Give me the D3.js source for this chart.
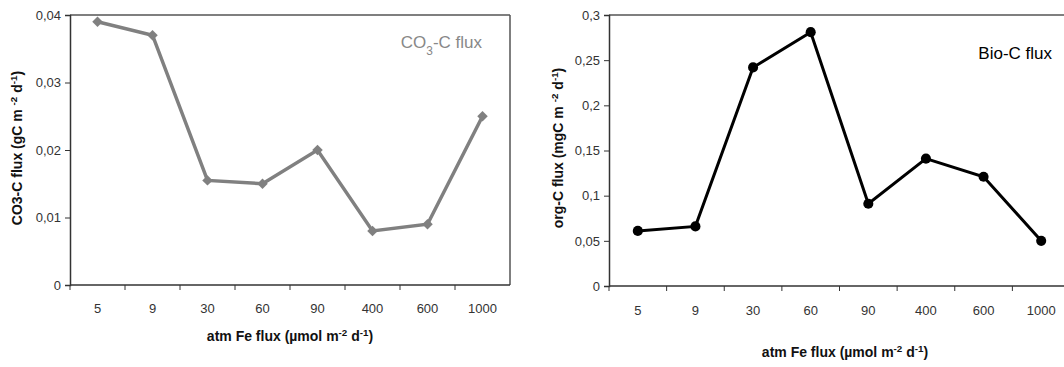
<!DOCTYPE html>
<html>
<head>
<meta charset="utf-8">
<script src="https://cdn.jsdelivr.net/npm/d3@7"></script>
<style>
  body { margin: 0; background: #fff; }
  svg { font-family: "Liberation Sans", Arial, sans-serif; }
</style>
</head>
<body>
<svg id="chart" width="1064" height="367"></svg>
<script>
// data
const feLabels = ["5", "9", "30", "60", "90", "400", "600", "1000"];
const co3Flux = [0.039, 0.037, 0.0155, 0.015, 0.020, 0.008, 0.009, 0.025];
const bioFlux = [0.061, 0.066, 0.242, 0.281, 0.091, 0.141, 0.121, 0.050];
const co3Ticks = [0, 0.01, 0.02, 0.03, 0.04];
const bioTicks = [0, 0.05, 0.1, 0.15, 0.2, 0.25, 0.3];

const svg = d3.select("#chart");
const fmt = d => String(d).replace(".", ",");

// superscript / subscript helper
function richText(sel, parts) {
    parts.forEach(p => {
        const t = sel.append("tspan").text(p.t);
        if (p.sup) t.attr("baseline-shift", "super").attr("font-size", "70%");
        if (p.sub) t.attr("baseline-shift", "sub").attr("font-size", "70%");
    });
}

function drawPanel(opt) {
    const g = svg.append("g");
    const x = d3.scaleBand().domain(feLabels).range([opt.x0, opt.x1]);
    const y = d3.scaleLinear().domain(opt.domain).range([opt.y1, opt.y0]);

    // frame top / right
    g.append("line").attr("x1", opt.x0).attr("x2", opt.x1)
        .attr("y1", opt.y0).attr("y2", opt.y0)
        .attr("stroke", "#555").attr("stroke-width", 1.5);
    g.append("line").attr("x1", opt.x1).attr("x2", opt.x1)
        .attr("y1", opt.y0).attr("y2", opt.y1)
        .attr("stroke", "#555").attr("stroke-width", 1.5);

    // x axis with ticks between categories
    const xa = g.append("g").attr("transform", `translate(0,${opt.y1})`);
    xa.append("line").attr("x1", opt.x0).attr("x2", opt.x1)
        .attr("stroke", "#333").attr("stroke-width", 1.5);
    xa.selectAll(".tk").data(feLabels).enter().append("line")
        .attr("x1", d => x(d)).attr("x2", d => x(d))
        .attr("y1", 0).attr("y2", 5)
        .attr("stroke", "#333");
    xa.selectAll(".lb").data(feLabels).enter().append("text")
        .attr("x", d => x(d) + x.bandwidth() / 2)
        .attr("y", opt.xLabelDy)
        .attr("text-anchor", "middle")
        .attr("font-size", 13).attr("fill", "#333")
        .text(d => d);

    // y axis
    const ya = g.append("g").attr("transform", `translate(${opt.x0},0)`)
        .call(d3.axisLeft(y).tickValues(opt.ticks).tickFormat(fmt).tickSize(5).tickPadding(4));
    ya.select(".domain").attr("stroke", "#333").attr("stroke-width", 1.5);
    ya.selectAll(".tick line").attr("stroke", "#333");
    ya.selectAll("text").attr("font-size", 13).attr("fill", "#333")
        .attr("font-family", "Liberation Sans, Arial, sans-serif");

    // line + markers
    const pts = feLabels.map((d, i) => [x(d) + x.bandwidth() / 2, y(opt.values[i])]);
    g.append("path").datum(pts)
        .attr("d", d3.line())
        .attr("fill", "none").attr("stroke", opt.color)
        .attr("stroke-width", opt.lineWidth);
    g.selectAll(".mk").data(pts).enter().append("path")
        .attr("transform", d => `translate(${d[0]},${d[1]})` + (opt.symbol === d3.symbolSquare ? " rotate(45)" : ""))
        .attr("d", d3.symbol().type(opt.symbol).size(opt.symbolSize))
        .attr("fill", opt.color);

    // y title
    const yt = g.append("text")
        .attr("transform", `translate(${opt.yTitleX},${opt.yTitleY}) rotate(-90)`)
        .attr("text-anchor", "middle").attr("font-size", 14).attr("font-weight", "bold")
        .attr("fill", "#111");
    richText(yt, opt.yTitle);

    // x title
    const xt = g.append("text")
        .attr("x", opt.xTitleX).attr("y", opt.xTitleY)
        .attr("text-anchor", "middle").attr("font-size", 14).attr("font-weight", "bold")
        .attr("fill", "#111");
    richText(xt, [{t: "atm Fe flux (µmol m"}, {t: "-2", sup: true}, {t: " d"}, {t: "-1", sup: true}, {t: ")"}]);

    // series label
    const lab = g.append("text")
        .attr("x", opt.labelX).attr("y", opt.labelY)
        .attr("text-anchor", "end").attr("font-size", 17)
        .attr("fill", opt.labelColor);
    richText(lab, opt.label);
}

drawPanel({
    x0: 70, x1: 510, y0: 15, y1: 285,
    domain: [0, 0.04], ticks: co3Ticks, values: co3Flux,
    color: "#808080", lineWidth: 3.5, symbol: d3.symbolSquare, symbolSize: 55,
    xLabelDy: 28,
    yTitle: [{t: "CO3-C flux (gC m  "}, {t: "-2", sup: true}, {t: "  d"}, {t: "-1", sup: true}, {t: ")"}],
    yTitleX: 22, yTitleY: 148,
    xTitleX: 290, xTitleY: 341,
    label: [{t: "CO"}, {t: "3", sub: true}, {t: "-C flux"}],
    labelX: 482, labelY: 48, labelColor: "#888"
});

drawPanel({
    x0: 609, x1: 1070, y0: 15, y1: 286,
    domain: [0, 0.3], ticks: bioTicks, values: bioFlux,
    color: "#000", lineWidth: 3, symbol: d3.symbolCircle, symbolSize: 80,
    xLabelDy: 29,
    yTitle: [{t: "org-C flux (mgC m  "}, {t: "-2", sup: true}, {t: " d"}, {t: "-1", sup: true}, {t: ")"}],
    yTitleX: 563, yTitleY: 148,
    xTitleX: 845, xTitleY: 357,
    label: [{t: "Bio-C flux"}],
    labelX: 1052, labelY: 59, labelColor: "#000"
});
</script>
</body>
</html>
